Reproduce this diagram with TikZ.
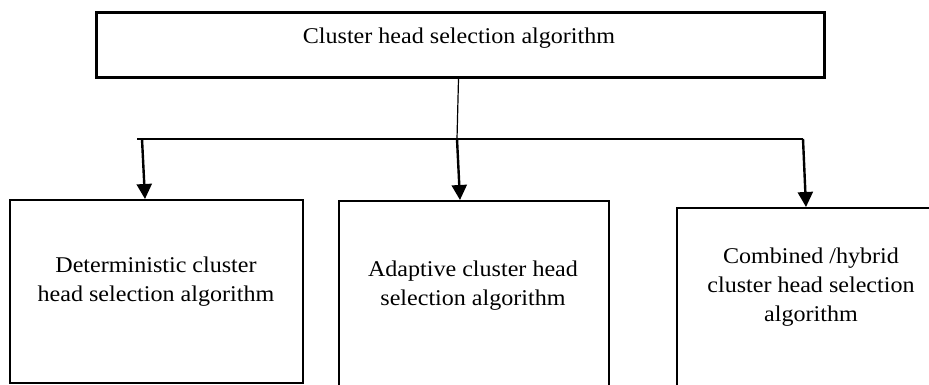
\documentclass[tikz,border=0pt]{standalone}
\usepackage{fontspec}
\setmainfont{Liberation Serif}
\newfontfamily\chfont[FakeStretch=1.07]{Liberation Serif}
\usetikzlibrary{arrows.meta,positioning}
\definecolor{chink}{HTML}{000000}
\tikzset{
  blk/.style = {rectangle, draw=chink, line width=2.4pt, fill=white,
                inner sep=0pt, anchor=north west},
  txt/.style = {font=\chfont\fontsize{22.5}{29}\selectfont, align=center, inner sep=0pt},
  ln/.style  = {draw=chink, line width=1.2pt},
  arr/.style = {-{Triangle[length=15pt,width=15pt]}, draw=chink, line width=2.4pt},
}

\begin{document}
\begin{tikzpicture}[x=1pt,y=-1pt]
  \useasboundingbox (0,0) rectangle (929,385);
  \clip (0,0) rectangle (929,385);
  % top box
  \node[blk, line width=3pt, minimum width=728pt, minimum height=65pt] (top) at (95,11) {};
  \node[txt] (toptxt) at (459,38) {Cluster head selection algorithm};
  % the three kinds
  \node[blk, minimum width=293pt, minimum height=183pt] (det) at (9,199) {};
  \node[blk, minimum width=270pt, minimum height=220pt] (ada) at (338,200) {};
  \node[blk, minimum width=270pt, minimum height=220pt] (hyb) at (676,207) {};
  \node[txt] (dettxt) at (156,282) {Deterministic cluster\\head selection algorithm};
  \node[txt] (adatxt) at (473,286) {Adaptive cluster head\\selection algorithm};
  \node[txt] (hybtxt) at (811,287) {Combined /hybrid\\cluster head selection\\algorithm};
  % bus
  \coordinate (busl) at (137,139);
  \coordinate (busr) at (803,139);
  \coordinate (b1) at (142,139);
  \coordinate (b2) at (457,139);
  \draw[ln] ([xshift=-2pt]top.south) -- (b2);
  \draw[ln] (busl) -- (busr);
  \draw[arr] (b1) -- ([xshift=136pt]det.north west);
  \draw[arr] (b2) -- ([xshift=122pt]ada.north west);
  \draw[arr] (busr) -- ([xshift=130pt]hyb.north west);
\end{tikzpicture}
\end{document}
